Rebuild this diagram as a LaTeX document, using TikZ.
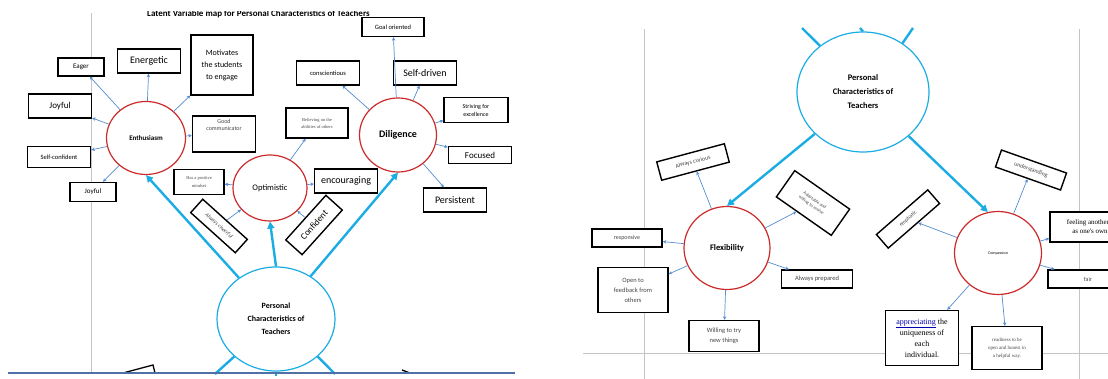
\documentclass[tikz,border=0pt]{standalone}
\usepackage{fontspec}
\setmainfont{Carlito}
\newfontfamily\serifx{Liberation Serif}
\usetikzlibrary{shapes.geometric,arrows.meta}
\definecolor{redc}{RGB}{204,42,42}
\definecolor{cyanl}{RGB}{28,172,228}
\definecolor{arrb}{RGB}{84,140,206}
\definecolor{grayl}{RGB}{196,196,196}
\definecolor{botl}{RGB}{80,112,168}
\definecolor{txtg}{RGB}{70,70,70}
\newcommand\fsz[2]{\fontsize{#1}{#2}\selectfont}
\tikzset{
  bx/.style={draw=black, line width=1.4pt, fill=white, inner sep=1pt, align=center},
  redcirc/.style={ellipse, draw=redc, line width=1.2pt, fill=white, inner sep=0pt, align=center},
  cycirc/.style={ellipse, draw=cyanl, line width=1.2pt, fill=white, inner sep=0pt, align=center},
  tarr/.style={draw=arrb, line width=0.7pt, -{Stealth[length=3.5pt,width=3.5pt]}},
  bigarr/.style={draw=cyanl, line width=2.4pt, -{Triangle[length=7pt,width=7pt]}},
  bigline/.style={draw=cyanl, line width=2.4pt},
  gline/.style={draw=grayl, line width=1pt},
}
\begin{document}
\begin{tikzpicture}[x=1pt,y=-1pt]
\useasboundingbox (0,0) rectangle (1108,379);
\clip (0,0) rectangle (1108,379);

% ---------- background guide lines ----------
\draw[gline] (91,13) -- (91,373);
\draw[gline] (644,29) -- (644,379);
\draw[gline] (1079,29) -- (1079,379);
\draw[gline] (583,353) -- (1108,353);

% ---------- title (cut at top) ----------
\begin{scope}
\clip (0,12) rectangle (560,30);
\node[anchor=base west, inner sep=0pt, font=\bfseries\fsz{9}{10}] (title) at (147,16.5) {Latent Variable map for Personal Characteristics of Teachers};
\end{scope}

% ================= LEFT PANEL =================
\node[cycirc, minimum width=118pt, minimum height=104pt, font=\bfseries\fsz{8}{13}] (pc) at (276,319) {Personal\\Characteristics of\\Teachers};

\node[redcirc, minimum width=79pt, minimum height=73pt, font=\bfseries\fsz{7}{8}] (enth) at (146,138) {Enthusiasm};
\node[redcirc, minimum width=74pt, minimum height=66pt, font=\fsz{8.5}{10}] (opt) at (270,188) {Optimistic};
\node[redcirc, minimum width=77pt, minimum height=74pt, font=\bfseries\fsz{10}{12}] (dil) at (398,135) {Diligence};

% Enthusiasm boxes
\node[bx, minimum width=46pt, minimum height=18pt, font=\fsz{7}{8}] (eager) at (81,67) {Eager};
\node[bx, minimum width=63pt, minimum height=24pt, font=\fsz{10}{12}] (energ) at (149,61) {Energetic};
\node[bx, minimum width=62pt, minimum height=60pt, font=\fsz{8}{12}] (motiv) at (222,65) {Motivates\\the students\\to engage};
\node[bx, minimum width=63pt, minimum height=24pt, font=\fsz{9}{11}] (joy1) at (60,106) {Joyful};
\node[bx, minimum width=63pt, minimum height=36pt] (gc) at (224,134) {};
\node[font=\fsz{6}{7}, text=txtg, align=center, inner sep=0pt, anchor=north] (gct) at (224,119) {Good\\communicator};
\node[bx, minimum width=63pt, minimum height=21pt, font=\fsz{6.5}{8}] (selfc) at (59,157) {Self-confident};
\node[bx, minimum width=46pt, minimum height=19pt, font=\fsz{7}{8}] (joy2) at (93,192) {Joyful};

% Optimistic boxes
\node[bx, minimum width=50pt, minimum height=25pt, font=\serifx\fsz{4.5}{8}, text=txtg] (hpm) at (199,182) {Has a positive\\mindset};
\node[bx, minimum width=63pt, minimum height=24pt, font=\fsz{10}{12}] (enc) at (346,181) {encouraging};
\node[bx, minimum width=62pt, minimum height=30pt, font=\serifx\fsz{4.5}{7}, text=txtg] (bel) at (317,123) {Believing on the\\abilities of others};
\node[bx, minimum width=60pt, minimum height=18pt, rotate=-42, font=\itshape\fsz{5.5}{7}, text=txtg] (ach) at (219,226) {Always cheerful};
\node[bx, minimum width=60pt, minimum height=22pt, rotate=48, font=\fsz{9}{11}] (conf) at (314,225) {Confident};

% Diligence boxes
\node[bx, minimum width=62pt, minimum height=19pt, font=\fsz{6.5}{8}] (goal) at (393,27) {Goal oriented};
\node[bx, minimum width=63pt, minimum height=24pt, font=\fsz{6.5}{8}] (consc) at (328,73) {conscientious};
\node[bx, minimum width=63pt, minimum height=24pt, font=\fsz{10}{12}] (selfd) at (425,73) {Self-driven};
\node[bx, minimum width=64pt, minimum height=25pt, font=\fsz{6}{8}] (striv) at (476,110) {Striving for\\excellence};
\node[bx, minimum width=63pt, minimum height=17pt, font=\fsz{9}{11}] (focus) at (480,155) {Focused};
\node[bx, minimum width=63pt, minimum height=24pt, font=\fsz{10}{12}] (persist) at (455,200) {Persistent};

% thin arrows left
\draw[tarr] (enth) -- (eager);
\draw[tarr] (enth) -- (energ);
\draw[tarr] (enth) -- (motiv);
\draw[tarr] (enth) -- (joy1);
\draw[tarr] (enth) -- (gc);
\draw[tarr] (enth) -- (selfc);
\draw[tarr] (enth) -- (joy2);
\draw[tarr] (opt) -- (hpm);
\draw[tarr] (opt) -- (enc);
\draw[tarr] (opt) -- (bel);
\draw[tarr] (ach) -- (opt);
\draw[tarr] (conf) -- (opt);
\draw[tarr] (dil) -- (goal);
\draw[tarr] (dil) -- (consc);
\draw[tarr] (dil) -- (selfd);
\draw[tarr] (dil) -- (striv);
\draw[tarr] (dil) -- (focus);
\draw[tarr] (dil) -- (persist);

% thick arrows left
\draw[bigarr] (pc.132) -- (enth.south);
\draw[bigarr] (pc.north) -- (opt.south);
\draw[bigarr] (pc.51) -- (dil.south);
\coordinate (bl1) at (215,374);
\coordinate (bl2) at (335,374);
\coordinate (bl3) at (276,376);
\draw[bigline] (pc.222) -- (bl1);
\draw[bigline] (pc.-42) -- (bl2);
\draw[bigline] (pc.south) -- (bl3);

% clipped fragments at bottom
\coordinate (fa1) at (123,373);
\coordinate (fa2) at (153,365);
\coordinate (fa3) at (155,373);
\draw[black, line width=1.3pt] (fa1) -- (fa2) -- (fa3);
\coordinate (fb1) at (402,370);
\coordinate (fb2) at (410,373);
\draw[black, line width=1.3pt] (fb1) -- (fb2);
\coordinate (bot1) at (8,373);
\coordinate (bot2) at (515,373);
\draw[botl, line width=1.3pt] (bot1) -- (bot2);

% ================= RIGHT PANEL =================
\node[cycirc, minimum width=132pt, minimum height=120pt, font=\bfseries\fsz{8.5}{14}] (pcr) at (863,92) {Personal\\Characteristics of\\Teachers};
\node[redcirc, minimum width=86pt, minimum height=83pt, font=\bfseries\fsz{8.5}{10}] (flex) at (727,248) {Flexibility};
\node[redcirc, minimum width=87pt, minimum height=83pt, font=\fsz{4}{5}] (comp) at (998,253) {Compassion};

\coordinate (t1) at (802,28);
\coordinate (t2) at (860,28);
\coordinate (t3) at (913,28);
\draw[bigline] (pcr.133) -- (t1);
\draw[bigline] (pcr.north) -- (t2);
\draw[bigline] (pcr.51) -- (t3);
\draw[bigarr] (pcr.221) -- (flex.north);
\draw[bigarr] (pcr.-44) -- (comp.104);

% Flexibility boxes
\node[bx, minimum width=70pt, minimum height=19pt, rotate=15, font=\fsz{6}{7}, text=txtg] (acur) at (693,162) {Always curious};
\node[bx, minimum width=67pt, minimum height=32pt, rotate=-35, font=\fsz{4.5}{6}, text=txtg] (adap) at (813,203) {Adaptable and\\willing to evolve};
\node[bx, minimum width=70pt, minimum height=18pt, font=\fsz{6}{7}, text=txtg] (resp) at (627,238) {responsive};
\node[bx, minimum width=70pt, minimum height=45pt, font=\fsz{6.5}{10}, text=txtg] (open) at (633,290) {Open to\\feedback from\\others};
\node[bx, minimum width=71pt, minimum height=18pt, font=\fsz{6.5}{8}, text=txtg] (prep) at (817,279) {Always prepared};
\node[bx, minimum width=70pt, minimum height=31pt, font=\fsz{6.5}{10}, text=txtg] (will) at (724,336) {Willing to try\\new things};

% Compassion boxes
\node[bx, minimum width=69pt, minimum height=18pt, rotate=-19.5, font=\fsz{6}{7}, text=txtg] (und) at (1031,170) {understanding};
\node[bx, minimum width=68pt, minimum height=18pt, rotate=41, font=\fsz{5.5}{7}, text=txtg] (emph) at (908,219) {emphatic};
\node[bx, minimum width=80pt, minimum height=30pt, font=\serifx\fsz{7}{9}] (feel) at (1090,227) {feeling another's\\as one's own};
\node[bx, minimum width=80pt, minimum height=18pt, font=\fsz{6}{7}, text=txtg] (fair) at (1088,279) {fair};
\node[bx, minimum width=73pt, minimum height=55pt, font=\serifx\fsz{8}{11}] (appr) at (922,338) {{\color{blue!70!black}\underline{appreciating}} the\\uniqueness of\\each\\individual.};
\node[bx, minimum width=70pt, minimum height=43pt, font=\serifx\fsz{5}{8}, text=txtg] (read) at (1007,348) {readiness to be\\open and honest in\\a helpful way.};

% thin arrows right
\draw[tarr] (flex) -- (acur);
\draw[tarr] (flex) -- (adap);
\draw[tarr] (flex) -- (resp);
\draw[tarr] (flex) -- (open);
\draw[tarr] (flex) -- (prep);
\draw[tarr] (flex) -- (will);
\draw[tarr] (comp) -- (und);
\draw[tarr] (comp) -- (emph);
\draw[tarr] (comp) -- (feel);
\draw[tarr] (comp) -- (fair);
\draw[tarr] (comp) -- (appr);
\draw[tarr] (comp) -- (read);
\end{tikzpicture}
\end{document}
